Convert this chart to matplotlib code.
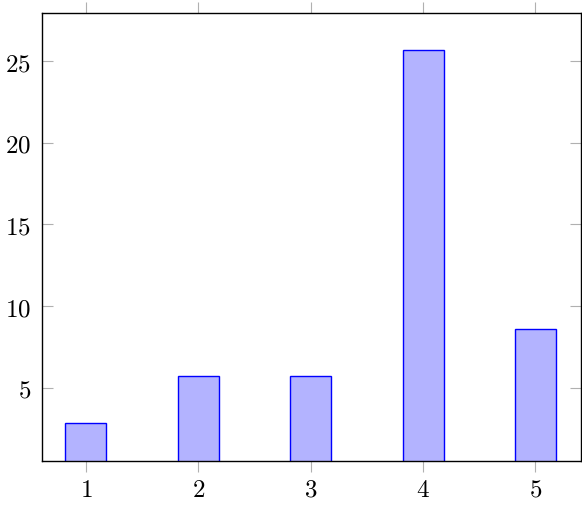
import matplotlib
matplotlib.use("Agg")
import matplotlib.pyplot as plt

plt.rcParams["mathtext.fontset"] = "cm"
plt.rcParams["font.family"] = "serif"
plt.rcParams["font.serif"] = ["DejaVu Serif"]

categories = [1, 2, 3, 4, 5]
values = [2.86, 5.73, 5.73, 25.67, 8.61]
yticks = [5, 10, 15, 20, 25]

fig = plt.figure(figsize=(5.82, 5.06), dpi=100)
ax = fig.add_axes([42 / 582, 44 / 506, 539 / 582, 448 / 506])

ax.bar(categories, values, width=0.365, bottom=0,
       color=(0.7, 0.7, 1.0), edgecolor="blue", linewidth=1.0, zorder=2)

ax.set_xlim(0.609, 5.405)
ax.set_ylim(0.53, 27.94)

ax.set_xticks(categories)
ax.set_xticklabels([f"${c}$" for c in categories], fontsize=18)
ax.set_yticks(yticks)
ax.set_yticklabels([f"${t}$" for t in yticks], fontsize=18)

ax.tick_params(axis="x", direction="out", length=8, width=0.8, color="#b0b0b0",
               top=True, bottom=True, pad=4)
ax.tick_params(axis="y", direction="in", length=8, width=0.8, color="#b0b0b0",
               left=True, right=True, pad=8)

for s in ax.spines.values():
    s.set_linewidth(1.0)
    s.set_color("black")

fig.savefig("out.png", dpi=100)
plt.close(fig)
